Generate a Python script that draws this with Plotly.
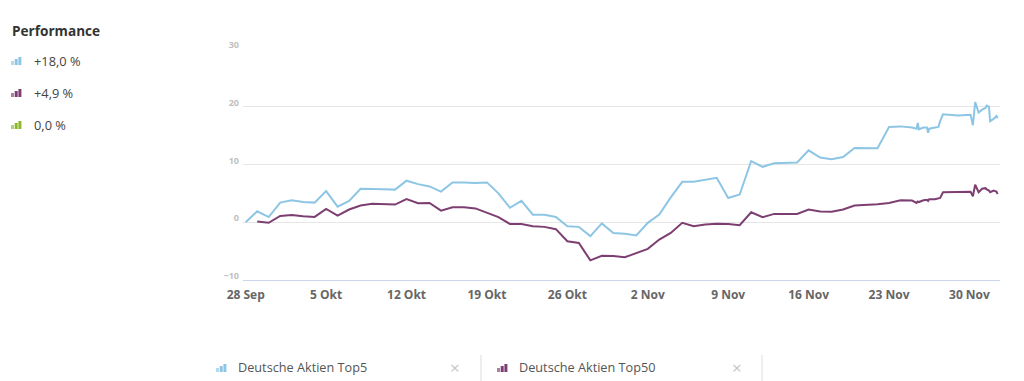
import pandas as pd
import plotly.graph_objects as go

# ---------------- data ----------------
daily_dates = [d.strftime("%Y-%m-%d") for d in pd.date_range("2020-09-28", "2020-11-24", freq="D")]
tail_dates = [
    "2020-11-25 00:00", "2020-11-25 09:36", "2020-11-25 12:00", "2020-11-25 14:24",
    "2020-11-26 00:00", "2020-11-26 07:12", "2020-11-26 09:36", "2020-11-26 12:00",
    "2020-11-27 00:00", "2020-11-27 07:12", "2020-11-27 10:48", "2020-11-27 16:48",
    "2020-11-29 00:00", "2020-11-30 02:24", "2020-11-30 07:12", "2020-11-30 12:00",
    "2020-11-30 19:12", "2020-12-01 02:24", "2020-12-01 09:36", "2020-12-01 12:00",
    "2020-12-01 16:48", "2020-12-01 19:12", "2020-12-02 02:24", "2020-12-02 08:24",
    "2020-12-02 10:48",
]
dates = daily_dates + tail_dates

top5_daily = [
    0.0, 1.9, 0.9, 3.4, 3.8, 3.5, 3.4, 5.4, 2.7, 3.7,
    5.8, 5.8, 5.7, 5.65, 7.2, 6.6, 6.2, 5.3, 6.9, 6.9,
    6.8, 6.9, 5.0, 2.5, 3.7, 1.3, 1.3, 0.9, -0.7, -0.8,
    -2.4, -0.2, -1.85, -2.0, -2.3, -0.1, 1.33, 4.3, 7.0, 7.0,
    7.3, 7.7, 4.2, 4.8, 10.6, 9.6, 10.2, 10.3, 10.35, 12.45,
    11.2, 10.9, 11.3, 12.85, 12.8, 12.8, 16.5, 16.6,
]
top5_tail = [
    16.4, 16.2, 17.2, 16.1,
    16.4, 16.4, 15.5, 16.2,
    16.4, 16.5, 17.5, 18.7,
    18.5, 18.6, 16.8, 20.8,
    19.0, 19.5, 19.8, 20.2,
    20.0, 17.5, 17.9, 18.4,
    18.0,
]
top50_daily = [
    None, 0.12, -0.1, 1.1, 1.27, 1.04, 0.92, 2.3, 1.16, 2.2,
    2.9, 3.2, 3.1, 3.06, 4.0, 3.3, 3.35, 2.0, 2.6, 2.6,
    2.4, 1.6, 0.9, -0.3, -0.3, -0.7, -0.8, -1.2, -3.3, -3.6,
    -6.6, -5.8, -5.85, -6.07, -5.3, -4.6, -3.0, -1.85, -0.1, -0.7,
    -0.4, -0.25, -0.3, -0.5, 1.73, 0.87, 1.45, 1.45, 1.45, 2.2,
    1.85, 1.8, 2.2, 2.9, 3.0, 3.1, 3.35, 3.8,
]
top50_tail = [
    3.75, 3.35, 3.6, 3.5,
    3.8, 3.9, 3.7, 4.0,
    4.0, 4.2, 4.2, 5.2,
    5.26, 5.26, 4.5, 6.5,
    5.2, 5.8, 5.9, 5.7,
    5.5, 5.2, 5.5, 5.3,
    4.9,
]
top5 = top5_daily + top5_tail
top50 = top50_daily + top50_tail

tick_dates = ["2020-09-28", "2020-10-05", "2020-10-12", "2020-10-19", "2020-10-26",
              "2020-11-02", "2020-11-09", "2020-11-16", "2020-11-23", "2020-11-30"]
tick_labels = ["28 Sep", "5 Okt", "12 Okt", "19 Okt", "26 Okt",
               "2 Nov", "9 Nov", "16 Nov", "23 Nov", "30 Nov"]
y_ticks = [-10, 0, 10, 20, 30]

series_names = ["Deutsche Aktien Top5", "Deutsche Aktien Top50"]
perf_labels = ["+18,0 %", "+4,9 %", "0,0 %"]

BLUE = "#8dc6e4"
PURPLE = "#7d3f72"
GREEN = "#8db82a"
FONT = "Open Sans"

# ---------------- layout geometry ----------------
W, H = 1024, 381
L, R, T, B = 243, 24, 49, 101
PW, PH = W - L - R, H - T - B


def px(x):
    return (x - L) / PW


def py(y):
    return (H - B - y) / PH


fig = go.Figure()
fig.add_trace(go.Scatter(x=dates, y=top5, mode="lines", name=series_names[0],
                         line=dict(color=BLUE, width=2), connectgaps=False))
fig.add_trace(go.Scatter(x=dates, y=top50, mode="lines", name=series_names[1],
                         line=dict(color=PURPLE, width=2), connectgaps=False))

shapes = []
annotations = []


def icon(x0, ybot, color):
    heights = [4, 6, 8]
    for i, h in enumerate(heights):
        xa = x0 + i * 3.7
        shapes.append(dict(type="rect", xref="paper", yref="paper",
                           x0=px(xa), x1=px(xa + 3.0), y0=py(ybot), y1=py(ybot - h),
                           fillcolor=color, line=dict(width=0),
                           opacity=0.65 if i == 0 else 1.0))


# left performance legend
annotations.append(dict(text="<b>Performance</b>", xref="paper", yref="paper",
                        x=px(10), y=py(30), xanchor="left", yanchor="middle",
                        showarrow=False, font=dict(family=FONT, size=13.6, color="#333333")))
for i, (lab, col) in enumerate(zip(perf_labels, [BLUE, PURPLE, GREEN])):
    yc = 61 + i * 32
    icon(11, yc + 4, col)
    annotations.append(dict(text=lab, xref="paper", yref="paper",
                            x=px(32), y=py(yc), xanchor="left", yanchor="middle",
                            showarrow=False, font=dict(family=FONT, size=12.8, color="#444444")))

# bottom legend
for xi, xt, xx, xs, col, name in [(216, 236, 455, 481, BLUE, series_names[0]),
                                  (497, 517, 737, 762, PURPLE, series_names[1])]:
    icon(xi, 372, col)
    annotations.append(dict(text=name, xref="paper", yref="paper",
                            x=px(xt), y=py(367), xanchor="left", yanchor="middle",
                            showarrow=False, font=dict(family=FONT, size=12.7, color="#555555")))
    annotations.append(dict(text="×", xref="paper", yref="paper",
                            x=px(xx), y=py(367), xanchor="center", yanchor="middle",
                            showarrow=False, font=dict(family=FONT, size=17, color="#c4c4c4")))
    shapes.append(dict(type="line", xref="paper", yref="paper",
                       x0=px(xs), x1=px(xs), y0=py(355), y1=py(381),
                       line=dict(color="#dddddd", width=1)))

fig.update_layout(
    width=W, height=H,
    margin=dict(l=L, r=R, t=T, b=B),
    paper_bgcolor="white", plot_bgcolor="white",
    showlegend=False,
    shapes=shapes, annotations=annotations,
    xaxis=dict(type="date", range=["2020-09-27 18:20", "2020-12-02 15:50"],
               tickvals=tick_dates, ticktext=tick_labels, showgrid=False,
               showline=True, linecolor="#ccd6eb", linewidth=1, zeroline=False,
               ticks="", tickfont=dict(family=FONT, size=12, color="#666666", weight="bold"),
               ticklabelstandoff=4, fixedrange=True),
    yaxis=dict(range=[-10, 30], tickvals=y_ticks, showgrid=True, gridcolor="#e6e6e6",
               gridwidth=1, zeroline=False, showline=False, ticks="",
               tickfont=dict(family=FONT, size=9, color="#c0c0c0", weight="bold"),
               ticklabelshift=-4, ticklabelstandoff=3, fixedrange=True),
)

fig.write_html("out.html", config={"displayModeBar": False},
               post_script="document.body.style.margin='0';document.body.style.padding='0';")
